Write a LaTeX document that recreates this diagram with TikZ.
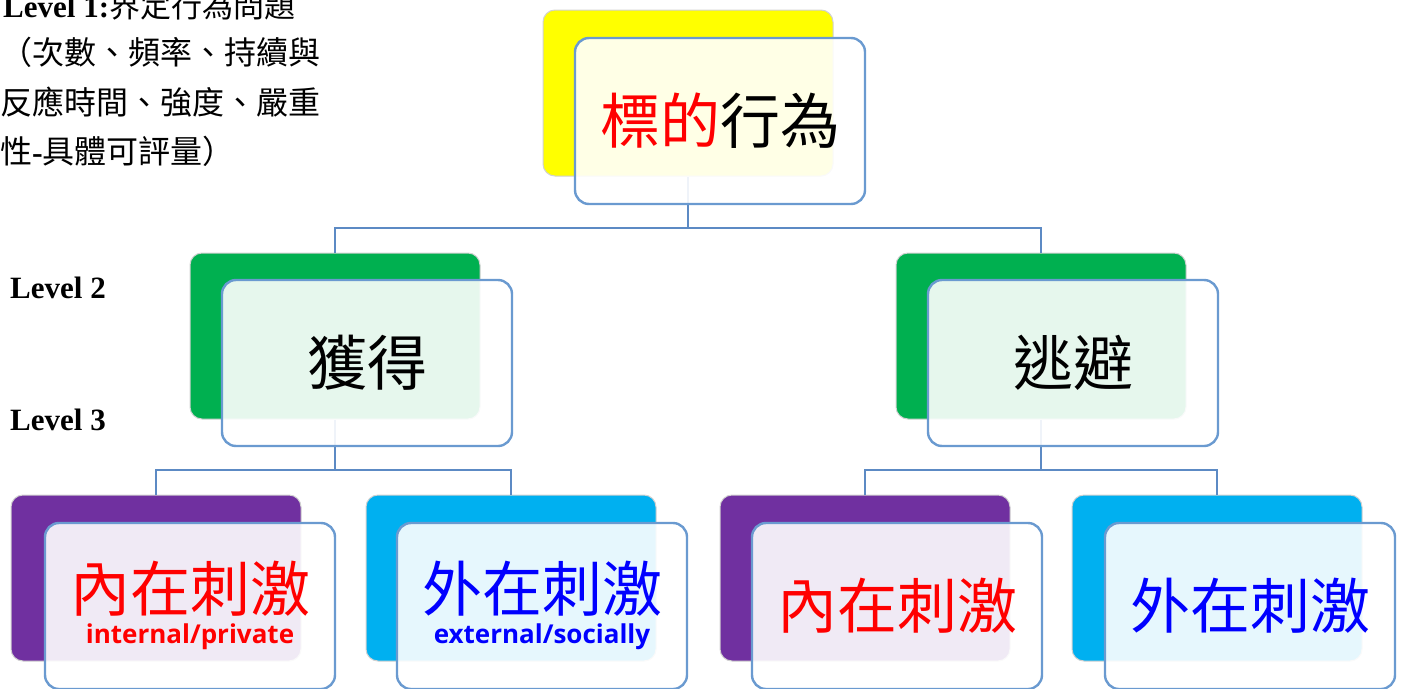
\documentclass[tikz,border=0pt]{standalone}
\usepackage{fontspec}
\setmainfont{Liberation Serif}
\newfontfamily\cjk{Noto Sans CJK TC}
\newfontfamily\osans{Open Sans}
\definecolor{frontblue}{RGB}{106,154,208}
\definecolor{connblue}{RGB}{92,138,196}
\definecolor{ygold}{RGB}{255,255,0}
\definecolor{ggreen}{RGB}{0,176,80}
\definecolor{ppurple}{RGB}{112,48,160}
\definecolor{ccyan}{RGB}{0,176,240}
\definecolor{tred}{RGB}{255,0,0}
\definecolor{tblue}{RGB}{0,0,255}
\tikzset{
  backbox/.style={rectangle, rounded corners=12pt, minimum width=290pt, minimum height=166pt, inner sep=0pt, draw=black!18, line width=1pt},
  frontbox/.style={rectangle, rounded corners=14pt, minimum width=290pt, minimum height=166pt, inner sep=0pt, draw=frontblue, line width=2.4pt, fill=white, fill opacity=0.9, text opacity=1, align=center},
  conn/.style={draw=connblue, line width=2.8pt},
  bigcjk/.style={font=\cjk\fontsize{60}{66}\selectfont},
  engsub/.style={font=\osans\bfseries\fontsize{26}{30}\selectfont, inner sep=0pt},
  lvl/.style={font=\bfseries\fontsize{31}{36}\selectfont, inner sep=0pt, anchor=base west},
  sidecjk/.style={font=\cjk\fontsize{32}{38}\selectfont}
}
\begin{document}
\begin{tikzpicture}[x=1pt,y=-1pt]
\useasboundingbox (0,0) rectangle (1402,688);
% left texts
\node[lvl] (l1a) at (3,17) {Level 1:{\cjk\mdseries 界定行為問題}};
\node[lvl, font=\cjk\fontsize{32}{38}\selectfont] (l1b) at (0,64) {（次數、頻率、持續與};
\node[lvl, font=\cjk\fontsize{32}{38}\selectfont] (l1c) at (0,114) {反應時間、強度、嚴重};
\node[lvl, font=\cjk\fontsize{32}{38}\selectfont] (l1d) at (0,163) {性{\rmfamily\bfseries -}具體可評量）};
\node[lvl] (lv2) at (10,298) {Level 2};
\node[lvl] (lv3) at (10,430) {Level 3};
% back boxes
\node[backbox, fill=ygold] (tb) at (688,93) {};
\node[backbox, fill=ggreen] (l2ab) at (335,336) {};
\node[backbox, fill=ggreen] (l2bb) at (1041,336) {};
\node[backbox, fill=ppurple] (l3ab) at (156,578) {};
\node[backbox, fill=ccyan] (l3bb) at (511,578) {};
\node[backbox, fill=ppurple] (l3cb) at (865,578) {};
\node[backbox, fill=ccyan] (l3db) at (1217,578) {};
% connectors
\coordinate (j1) at (688,228);
\coordinate (j2) at (335,470);
\coordinate (j3) at (1041,470);
\draw[conn] (tb.south) -- (j1);
\draw[conn] (l2ab.north) |- (j1) -| (l2bb.north);
\draw[conn] (l2ab.south) -- (j2);
\draw[conn] (l3ab.north) |- (j2) -| (l3bb.north);
\draw[conn] (l2bb.south) -- (j3);
\draw[conn] (l3cb.north) |- (j3) -| (l3db.north);
% front boxes
\node[frontbox, bigcjk] (tf) at (720,121) {\textcolor{tred}{標的}行為};
\node[frontbox, bigcjk] (l2af) at (367,363) {獲得};
\node[frontbox, bigcjk] (l2bf) at (1073,363) {逃避};
\node[frontbox] (l3af) at (190,606) {};
\node[frontbox] (l3bf) at (542,606) {};
\node[frontbox, bigcjk, text=tred] (l3cf) at (897,606) {內在刺激};
\node[frontbox, bigcjk, text=tblue] (l3df) at (1250,606) {外在刺激};
\node[bigcjk, text=tred, inner sep=0pt] (l3at) at (l3af.center |- 0,589) {內在刺激};
\node[engsub, text=tred] (l3ae) at (l3af.center |- 0,637) {internal/private};
\node[bigcjk, text=tblue, inner sep=0pt] (l3bt) at (l3bf.center |- 0,589) {外在刺激};
\node[engsub, text=tblue] (l3be) at (l3bf.center |- 0,637) {external/socially};
\end{tikzpicture}
\end{document}
